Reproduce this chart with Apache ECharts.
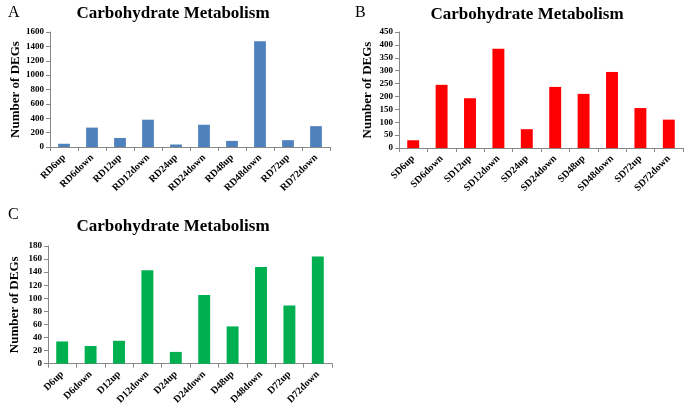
<!DOCTYPE html>
<html><head><meta charset="utf-8">
<script src="https://cdn.jsdelivr.net/npm/echarts@6/dist/echarts.min.js"></script>
<style>html,body{margin:0;padding:0;background:#fff}#c{width:685px;height:407px}</style>
</head><body><div id="c"></div>
<script>
const catsA = ['RD6up','RD6down','RD12up','RD12down','RD24up','RD24down','RD48up','RD48down','RD72up','RD72down'];
const valsA = [45,270,125,380,35,310,85,1470,95,290];
const ticksA = {min:0,max:1600,interval:200};
const catsB = ['SD6up','SD6down','SD12up','SD12down','SD24up','SD24down','SD48up','SD48down','SD72up','SD72down'];
const valsB = [30,245,193,385,73,237,210,295,155,110];
const ticksB = {min:0,max:450,interval:50};
const catsC = ['D6up','D6down','D12up','D12down','D24up','D24down','D48up','D48down','D72up','D72down'];
const valsC = [34,27,35,143,18,105,57,148,89,164];
const ticksC = {min:0,max:180,interval:20};
const titleText = 'Carbohydrate Metabolism';
const yName = 'Number of DEGs';

const F = 'Liberation Serif';
const chart = echarts.init(document.getElementById('c'));
const grids = [
  {left:50, top:32, width:280, height:115},
  {left:399, top:32, width:284, height:116},
  {left:48, top:246, width:284, height:121}
];
const cats = [catsA, catsB, catsC];
const vals = [valsA, valsB, valsC];
const ticks = [ticksA, ticksB, ticksC];
const colors = ['#4F81BD', '#FF0000', '#00B050'];
const nameGaps = [28, 25, 27];
const axisColor = '#888';
const xAxis = cats.map((c,i)=>({
  type:'category', gridIndex:i, data:c,
  axisLine:{lineStyle:{color:axisColor}},
  axisTick:{show:true, length:4, lineStyle:{color:axisColor}},
  axisLabel:{rotate:45, interval:0, fontFamily:F, fontWeight:'bold', fontSize:10, color:'#000', margin:9}
}));
const yAxis = ticks.map((t,i)=>({
  type:'value', gridIndex:i, min:t.min, max:t.max, interval:t.interval,
  name:yName, nameLocation:'middle', nameGap:nameGaps[i], nameRotate:90,
  nameTextStyle:{fontFamily:F, fontWeight:'bold', fontSize:13, color:'#000'},
  axisLine:{show:true, lineStyle:{color:axisColor}},
  axisTick:{show:true, length:4, lineStyle:{color:axisColor}},
  splitLine:{show:false},
  axisLabel:{fontFamily:F, fontWeight:'bold', fontSize:9, color:'#000', margin:6, formatter:v=>String(v)}
}));
const series = vals.map((v,i)=>({
  type:'bar', xAxisIndex:i, yAxisIndex:i, data:v, barWidth:'42%',
  itemStyle:{color:colors[i]}
}));
chart.setOption({
  animation:false,
  title:[
    {text:titleText, left:168, top:0, textAlign:'center', textStyle:{fontFamily:F, fontWeight:'bold', fontSize:17, color:'#000'}},
    {text:titleText, left:522, top:1, textAlign:'center', textStyle:{fontFamily:F, fontWeight:'bold', fontSize:17, color:'#000'}},
    {text:titleText, left:168, top:213, textAlign:'center', textStyle:{fontFamily:F, fontWeight:'bold', fontSize:17, color:'#000'}},
    {text:'A', left:3, top:0, textStyle:{fontFamily:F, fontWeight:'normal', fontSize:16, color:'#000'}},
    {text:'B', left:350, top:0, textStyle:{fontFamily:F, fontWeight:'normal', fontSize:16, color:'#000'}},
    {text:'C', left:3, top:202, textStyle:{fontFamily:F, fontWeight:'normal', fontSize:16, color:'#000'}}
  ],
  grid:grids, xAxis:xAxis, yAxis:yAxis, series:series
});
</script></body></html>
